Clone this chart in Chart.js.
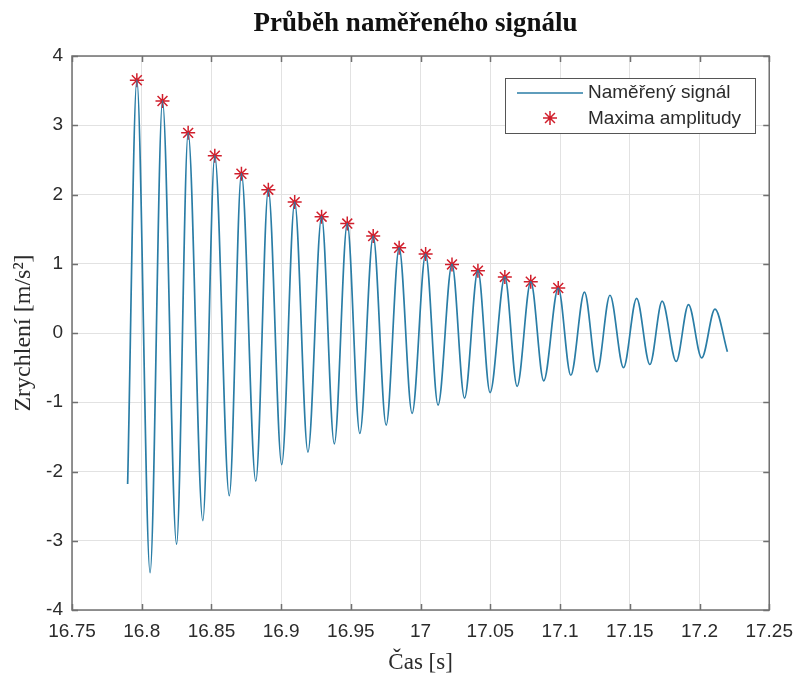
<!DOCTYPE html>
<html><head><meta charset="utf-8">
<script src="https://cdn.jsdelivr.net/npm/chart.js@4.4.0/dist/chart.umd.min.js"></script>
<style>html,body{margin:0;padding:0;background:#fff;}#wrap{width:803px;height:675px;}</style>
</head><body><div id="wrap"><canvas id="c" width="803" height="675"></canvas></div>
<script>
const chartTitle = 'Průběh naměřeného signálu';
const xAxisTitle = 'Čas [s]';
const yAxisTitle = 'Zrychlení [m/s²]';
const seriesNames = ['Naměřený signál', 'Maxima amplitudy'];

const signalTimes = [16.7899, 16.7965, 16.8060, 16.8149, 16.8250, 16.8333, 16.8438, 16.8524, 16.8628, 16.8715,
  16.8818, 16.8908, 16.9004, 16.9097, 16.9192, 16.9290, 16.9381, 16.9474, 16.9564, 16.9660,
  16.9753, 16.9846, 16.9939, 17.0036, 17.0125, 17.0225, 17.0315, 17.0411, 17.0498, 17.0604,
  17.0692, 17.0790, 17.0883, 17.0987, 17.1077, 17.1175, 17.1265, 17.1358, 17.1455, 17.1549,
  17.1644, 17.1732, 17.1833, 17.1921, 17.2016, 17.2111, 17.2200];
const signalValues = [-2.18, 3.65, -3.46, 3.35, -3.05, 2.89, -2.71, 2.56, -2.35, 2.30,
  -2.14, 2.07, -1.90, 1.89, -1.72, 1.68, -1.60, 1.58, -1.45, 1.40,
  -1.33, 1.23, -1.16, 1.14, -1.04, 0.99, -0.94, 0.90, -0.86, 0.81,
  -0.77, 0.74, -0.69, 0.65, -0.61, 0.59, -0.56, 0.545, -0.50, 0.50,
  -0.455, 0.46, -0.41, 0.41, -0.36, 0.345, -0.27];

const peakTimes = [16.7965, 16.8149, 16.8333, 16.8524, 16.8715, 16.8908, 16.9097, 16.9290, 16.9474,
  16.9660, 16.9846, 17.0036, 17.0225, 17.0411, 17.0604, 17.0790, 17.0987];
const peakValues = [3.65, 3.35, 2.89, 2.56, 2.30, 2.07, 1.89, 1.68, 1.58,
  1.40, 1.23, 1.14, 0.99, 0.90, 0.81, 0.74, 0.65];

const xTickValues = [16.75, 16.8, 16.85, 16.9, 16.95, 17, 17.05, 17.1, 17.15, 17.2, 17.25];
const yTickValues = [-4, -3, -2, -1, 0, 1, 2, 3, 4];

const LINE_COLOR = '#2a7da6';
const STAR_COLOR = '#d11f2c';
const TEXT_COLOR = '#2b2b2b';

const framePlugin = {
  id: 'frame',
  afterDatasetsDraw(chart) {
    const {ctx, chartArea: a, scales} = chart;
    ctx.save();
    ctx.strokeStyle = '#707070';
    ctx.lineWidth = 1.5;
    ctx.beginPath();
    const tl = 6;
    scales.x.ticks.forEach(t => {
      const px = Math.round(scales.x.getPixelForValue(t.value)) + 0.5;
      ctx.moveTo(px, a.bottom); ctx.lineTo(px, a.bottom - tl);
      ctx.moveTo(px, a.top); ctx.lineTo(px, a.top + tl);
    });
    scales.y.ticks.forEach(t => {
      const py = Math.round(scales.y.getPixelForValue(t.value)) + 0.5;
      ctx.moveTo(a.left, py); ctx.lineTo(a.left + tl, py);
      ctx.moveTo(a.right, py); ctx.lineTo(a.right - tl, py);
    });
    ctx.stroke();
    ctx.strokeRect(a.left, a.top, a.right - a.left, a.bottom - a.top);
    ctx.restore();
  },
  afterDraw(chart) {
    const {ctx, chartArea: a} = chart;
    ctx.save();
    // title
    ctx.fillStyle = '#111';
    ctx.font = 'bold 27px "Liberation Serif"';
    ctx.textAlign = 'center';
    ctx.textBaseline = 'alphabetic';
    ctx.fillText(chartTitle, (a.left + a.right) / 2 - 5, 31);
    // legend
    const bx = 505, by = 78, bw = 250, bh = 55;
    ctx.fillStyle = '#fff';
    ctx.fillRect(bx, by, bw, bh);
    ctx.strokeStyle = '#555';
    ctx.lineWidth = 1;
    ctx.strokeRect(bx + 0.5, by + 0.5, bw, bh);
    const ds = chart.data.datasets;
    ctx.font = '19px "Liberation Sans"';
    ctx.textAlign = 'left';
    ctx.textBaseline = 'middle';
    ctx.fillStyle = TEXT_COLOR;
    // row 1: line sample
    ctx.strokeStyle = ds[0].borderColor;
    ctx.lineWidth = ds[0].borderWidth;
    ctx.beginPath(); ctx.moveTo(517, 93); ctx.lineTo(583, 93); ctx.stroke();
    ctx.fillText(ds[0].label, 588, 93);
    // row 2: star marker
    ctx.strokeStyle = ds[1].borderColor;
    ctx.lineWidth = 1.5;
    ctx.beginPath();
    const r = 7;
    for (let k = 0; k < 4; k++) {
      const ang = k * Math.PI / 4;
      ctx.moveTo(550 - r * Math.cos(ang), 118 - r * Math.sin(ang));
      ctx.lineTo(550 + r * Math.cos(ang), 118 + r * Math.sin(ang));
    }
    ctx.stroke();
    ctx.fillText(ds[1].label, 588, 119);
    ctx.restore();
  }
};

new Chart(document.getElementById('c'), {
  type: 'line',
  data: {
    datasets: [
      {
        label: seriesNames[0],
        data: signalTimes.map((t, i) => ({x: t, y: signalValues[i]})),
        borderColor: LINE_COLOR,
        borderWidth: 1.7,
        pointRadius: 0,
        cubicInterpolationMode: 'monotone',
        fill: false
      },
      {
        label: seriesNames[1],
        data: peakTimes.map((t, i) => ({x: t, y: peakValues[i]})),
        showLine: false,
        pointStyle: 'star',
        pointRadius: 7,
        pointBorderWidth: 1.5,
        borderColor: STAR_COLOR,
        backgroundColor: STAR_COLOR,
        pointBorderColor: STAR_COLOR
      }
    ]
  },
  options: {
    responsive: false,
    animation: false,
    devicePixelRatio: 1,
    layout: {padding: {left: 0, top: 56, right: 32, bottom: 0}},
    plugins: {legend: {display: false}, title: {display: false}, tooltip: {enabled: false}},
    scales: {
      x: {
        type: 'linear',
        min: 16.75, max: 17.25,
        afterBuildTicks: s => { s.ticks = xTickValues.map(v => ({value: v})); },
        afterFit: s => { s.height = 65; },
        ticks: {
          callback: v => String(v),
          font: {family: 'Liberation Sans', size: 19},
          color: TEXT_COLOR, padding: 10, maxRotation: 0, autoSkip: false
        },
        grid: {color: '#e2e2e2', drawTicks: false},
        border: {display: false},
        title: {display: true, text: xAxisTitle, color: TEXT_COLOR,
          font: {family: 'Liberation Serif', size: 23}, padding: {top: 0, bottom: -2}}
      },
      y: {
        type: 'linear',
        min: -4, max: 4,
        afterBuildTicks: s => { s.ticks = yTickValues.map(v => ({value: v})); },
        afterFit: s => { s.width = 72; },
        ticks: {
          callback: v => String(v),
          font: {family: 'Liberation Sans', size: 19},
          color: TEXT_COLOR, padding: 9
        },
        grid: {color: '#e2e2e2', drawTicks: false},
        border: {display: false},
        title: {display: true, text: yAxisTitle, color: TEXT_COLOR,
          font: {family: 'Liberation Serif', size: 24}, padding: {top: 9, bottom: 0}}
      }
    }
  },
  plugins: [framePlugin]
});
</script>
</body></html>
